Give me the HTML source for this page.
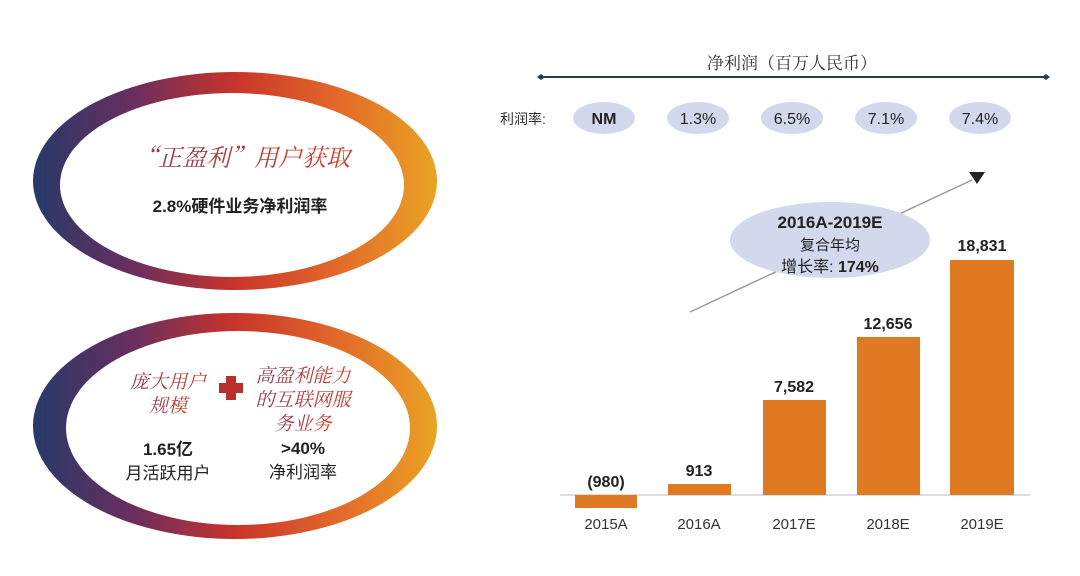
<!DOCTYPE html>
<html><head><meta charset="utf-8"><style>
body{margin:0;background:#fff;}
svg{display:block;font-family:"Liberation Sans","Noto Sans CJK SC",sans-serif;}
</style></head><body>
<svg width="1080" height="576" viewBox="0 0 1080 576" xmlns="http://www.w3.org/2000/svg">
<defs>
<linearGradient id="g" x1="0" x2="1" y1="0" y2="0">
<stop offset="0" stop-color="#263a6a"/><stop offset="0.25" stop-color="#6a2e5e"/>
<stop offset="0.5" stop-color="#c8342a"/><stop offset="0.75" stop-color="#e2682a"/>
<stop offset="1" stop-color="#eaa424"/></linearGradient>
<linearGradient id="t" x1="0" x2="1"><stop offset="0" stop-color="#8a3a50"/><stop offset="1" stop-color="#d0402a"/></linearGradient>
</defs>
<rect width="1080" height="576" fill="#fff"/>
<!-- top ring -->
<path fill-rule="evenodd" fill="url(#g)" d="M33,181 a202,109 0 1,0 404,0 a202,109 0 1,0 -404,0 Z M60,185 a172,92 0 1,0 344,0 a172,92 0 1,0 -344,0 Z"/>
<text x="242" y="166" text-anchor="middle" font-size="24" font-style="italic" fill="url(#t)" font-family="Noto Serif CJK SC, serif">“正盈利”用户获取</text>
<text x="240" y="212" text-anchor="middle" font-size="17" font-weight="bold" fill="#222">2.8%硬件业务净利润率</text>
<!-- bottom ring -->
<path fill-rule="evenodd" fill="url(#g)" d="M33,426 a202,113 0 1,0 404,0 a202,113 0 1,0 -404,0 Z M66,428 a172,97 0 1,0 344,0 a172,97 0 1,0 -344,0 Z"/>
<g font-size="19" font-style="italic" fill="url(#t)" text-anchor="middle" font-family="Noto Serif CJK SC, serif">
<text x="168" y="388">庞大用户</text><text x="168" y="412">规模</text>
<text x="303" y="382">高盈利能力</text><text x="303" y="406">的互联网服</text><text x="303" y="430">务业务</text>
</g>
<path d="M226,376 h10 v7 h7 v10 h-7 v7 h-10 v-7 h-7 v-10 h7 z" fill="#b8302a"/>
<g font-size="17" fill="#222" text-anchor="middle">
<text x="168" y="455" font-weight="bold">1.65亿</text><text x="168" y="479">月活跃用户</text>
<text x="303" y="454" font-weight="bold">&gt;40%</text><text x="303" y="478">净利润率</text>
</g>
<!-- right -->
<text x="792" y="69" text-anchor="middle" font-size="17" fill="#333" font-family="Noto Serif CJK SC, serif">净利润（百万人民币）</text>
<line x1="541" y1="77" x2="1046" y2="77" stroke="#2a3a4a" stroke-width="2"/>
<path d="M537,77 l4,-3 l4,3 l-4,3z M1042,77 l4,-3 l4,3 l-4,3z" fill="#2a3a4a"/>
<text x="500" y="124" font-size="14" fill="#333">利润率:</text>
<g fill="#d2d9ec"><ellipse cx="604" cy="118" rx="31" ry="16"/><ellipse cx="698" cy="118" rx="31" ry="16"/><ellipse cx="792" cy="118" rx="31" ry="16"/><ellipse cx="886" cy="118" rx="31" ry="16"/><ellipse cx="980" cy="118" rx="31" ry="16"/></g>
<g font-size="16" fill="#222" text-anchor="middle">
<text x="604" y="124" font-weight="bold">NM</text><text x="698" y="124">1.3%</text><text x="792" y="124">6.5%</text><text x="886" y="124">7.1%</text><text x="980" y="124">7.4%</text></g>
<line x1="690" y1="312" x2="972" y2="180" stroke="#999" stroke-width="1.5"/>
<path d="M969,172 h16 l-8,12z" fill="#222"/>
<ellipse cx="830" cy="240" rx="100" ry="38" fill="#d2d9ec"/>
<text x="830" y="228" text-anchor="middle" font-size="17" font-weight="bold" fill="#222">2016A-2019E</text>
<text x="830" y="250" text-anchor="middle" font-size="15" fill="#222">复合年均</text>
<text x="830" y="272" text-anchor="middle" font-size="16" fill="#222">增长率: <tspan font-weight="bold">174%</tspan></text>
<line x1="560" y1="495" x2="1030" y2="495" stroke="#bbb" stroke-width="1"/>
<g fill="#e07a22">
<rect x="575" y="495" width="62" height="13"/><rect x="668" y="484" width="63" height="11"/>
<rect x="763" y="400" width="63" height="95"/><rect x="857" y="337" width="63" height="158"/>
<rect x="950" y="260" width="64" height="235"/></g>
<g font-size="16" font-weight="bold" fill="#222" text-anchor="middle">
<text x="606" y="487">(980)</text><text x="699" y="476">913</text><text x="794" y="392">7,582</text><text x="888" y="329">12,656</text><text x="982" y="251">18,831</text></g>
<g font-size="15" fill="#333" text-anchor="middle">
<text x="606" y="529">2015A</text><text x="699" y="529">2016A</text><text x="794" y="529">2017E</text><text x="888" y="529">2018E</text><text x="982" y="529">2019E</text></g>
</svg>
</body></html>
